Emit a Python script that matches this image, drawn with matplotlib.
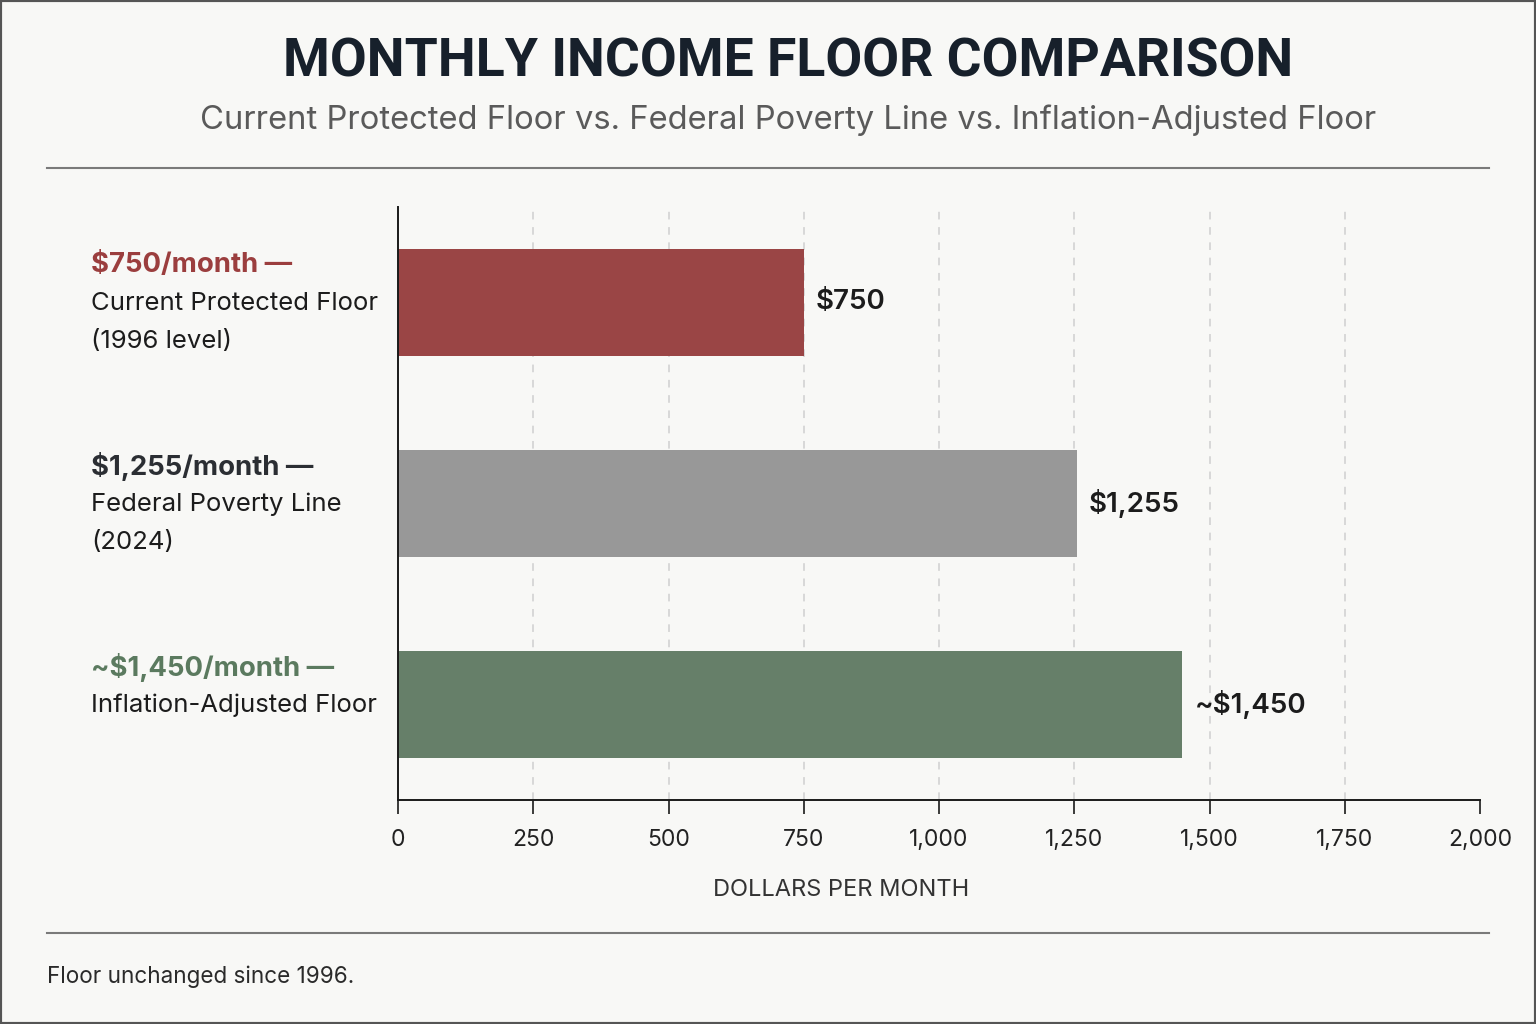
import numpy as np
import matplotlib
matplotlib.use('Agg')
from matplotlib import pyplot as plt
from matplotlib.patches import Rectangle
from matplotlib.lines import Line2D

# Data
values = [750, 1255, 1450]
value_labels = ['$750', '$1,255', '~$1,450']
head_labels = ['$750/month \u2014', '$1,255/month \u2014', '~$1,450/month \u2014']
sub_labels = [['Current Protected Floor', '(1996 level)'],
              ['Federal Poverty Line', '(2024)'],
              ['Inflation-Adjusted Floor']]
ticks = [0, 250, 500, 750, 1000, 1250, 1500, 1750, 2000]

bar_colors = ['#9a4545', '#989898', '#667f69']
head_colors = ['#9b3e3e', '#2b2e33', '#5b7a5f']
bg = '#f8f8f6'

plt.rcParams['font.family'] = ['Inter', 'DejaVu Sans']

fig = plt.figure(figsize=(15.36, 10.24), dpi=100, facecolor=bg)
ax = fig.add_axes([398 / 1536, 1 - 800 / 1024, (1480 - 398) / 1536, (800 - 207) / 1024])
ax.set_facecolor(bg)

y = np.arange(len(values))
ax.barh(y, values, height=0.53, color=bar_colors, zorder=2)
ax.set_xlim(0, 2000)
ax.set_ylim(2.475, -0.475)

for xv in ticks[1:-1]:
    ax.axvline(xv, color='#cfcfcf', lw=1.1, ls=(0, (5, 5)), zorder=1)

for s in ['top', 'right']:
    ax.spines[s].set_visible(False)
for s in ['left', 'bottom']:
    ax.spines[s].set_color('#1a1a1a')
    ax.spines[s].set_linewidth(1.4)
ax.set_yticks([])
ax.set_xticks(ticks)
ax.set_xticklabels([f'{t:,}' for t in ticks], fontsize=16.5, color='#222222')
ax.tick_params(axis='x', length=10, width=1.2, color='#1a1a1a', pad=11)
ax.set_xlabel('DOLLARS PER MONTH', fontsize=17, color='#333333')
ax.xaxis.set_label_coords((841 - 398) / (1480 - 398), -0.134)

# value labels
for i, v in enumerate(values):
    ax.annotate(value_labels[i], xy=(v, i), xytext=(12, 0), textcoords='offset pixels',
                va='center', ha='left', fontsize=20, fontweight='semibold', color='#1c1c1c')

# left labels
tr = ax.get_yaxis_transform()
x_lab = (91 - 398) / (1480 - 398)
for i in range(len(values)):
    ax.annotate(head_labels[i], xy=(x_lab, i), xycoords=tr, xytext=(0, 37),
                textcoords='offset pixels', va='center', ha='left', fontsize=19.8,
                fontweight='bold', color=head_colors[i], annotation_clip=False)
    for k, line in enumerate(sub_labels[i]):
        ax.annotate(line, xy=(x_lab, i), xycoords=tr, xytext=(0, -1 - 38 * k),
                    textcoords='offset pixels', va='center', ha='left', fontsize=18.5,
                    color='#1c1c1c', annotation_clip=False)

# title block
cx = 788 / 1536
fig.text(cx, 1 - 62 / 1024, 'MONTHLY INCOME FLOOR COMPARISON', ha='center', va='center',
         fontsize=38.5, fontweight='bold', color='#17202b', family=['Roboto', 'DejaVu Sans'])
fig.text(cx, 1 - 120 / 1024,
         'Current Protected Floor vs. Federal Poverty Line vs. Inflation-Adjusted Floor',
         ha='center', va='center', fontsize=23.6, color='#5a5a5a')
for yy in [168, 933]:
    fig.add_artist(Line2D([47 / 1536, 1489 / 1536], [1 - yy / 1024] * 2,
                          color='#7a7a7a', lw=1.5))
fig.text(47 / 1536, 1 - 977 / 1024, 'Floor unchanged since 1996.', ha='left', va='center',
         fontsize=16.2, color='#2a2a2a')

fig.add_artist(Rectangle((0, 0), 1, 1, transform=fig.transFigure, fill=False,
                         edgecolor='#555555', lw=3))

fig.savefig('out.png', dpi=100, facecolor=bg)
